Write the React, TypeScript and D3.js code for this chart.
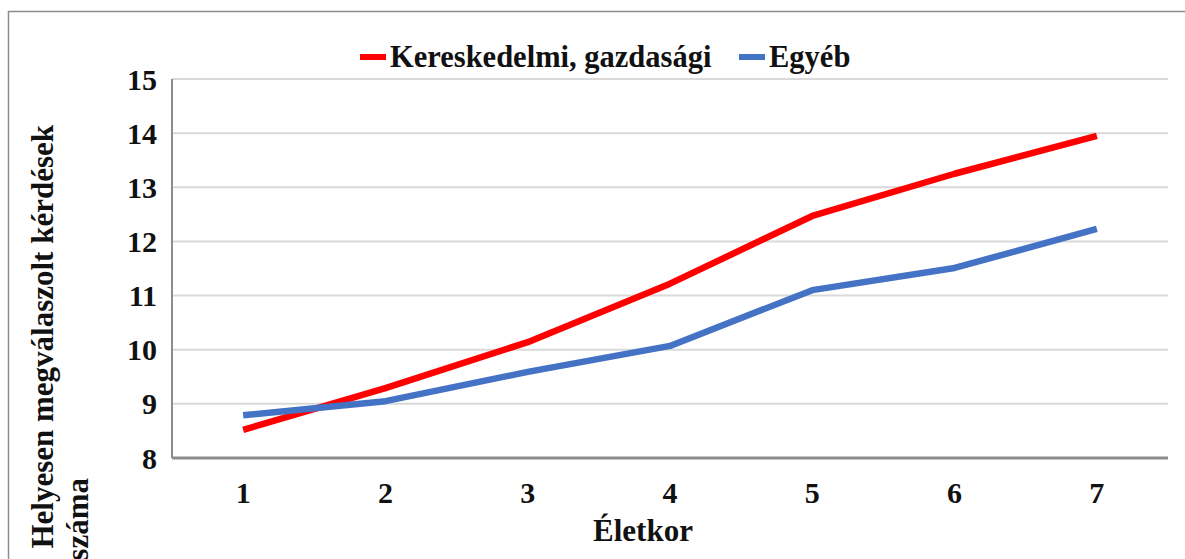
import React from "react";
import * as d3 from "d3";

const ages = ["1", "2", "3", "4", "5", "6", "7"];
const kereskedelmi = [8.52, 9.29, 10.14, 11.22, 12.47, 13.25, 13.95];
const egyeb = [8.79, 9.05, 9.59, 10.07, 11.1, 11.51, 12.23];
const yTicks = [8, 9, 10, 11, 12, 13, 14, 15];
const seriesNames = ["Kereskedelmi, gazdasági", "Egyéb"];
const seriesColors = ["#FF0000", "#4472C4"];
const xTitle = "Életkor";
const yTitleLines = ["Helyesen megválaszolt kérdések", "száma"];

const W = 1185;
const H = 559;
const FONT = "Liberation Serif, Times New Roman, Tinos, serif";

export default function App() {
  const left = 172, right = 1168, top = 79, bottom = 458;
  const x = d3.scaleBand<string>().domain(ages).range([left, right]);
  const y = d3.scaleLinear().domain([8, 15]).range([bottom, top]);
  const line = d3
    .line<number>()
    .x((_, i) => (x(ages[i]) as number) + x.bandwidth() / 2)
    .y((d) => y(d));
  const series = [kereskedelmi, egyeb];
  const ts = (fs: number): React.CSSProperties => ({ fontFamily: FONT, fontWeight: 700, fontSize: fs });
  const yTitleEnds = [125, 478];

  return (
    <svg
      width={W}
      height={H}
      style={{ position: "absolute", left: 0, top: 0, background: "#fff", fontFamily: FONT }}
    >
      <rect x={8.5} y={11.5} width={W} height={H} fill="#fff" stroke="#8c8c8c" strokeWidth={1.5} />
      {yTicks.map((t) => (
        <line key={"g" + t} x1={left} x2={right} y1={y(t)} y2={y(t)} stroke="#d9d9d9" strokeWidth={2} />
      ))}
      <line x1={left} x2={left} y1={top} y2={bottom} stroke="#8c8c8c" strokeWidth={2} />
      <line x1={left} x2={right} y1={bottom} y2={bottom} stroke="#8c8c8c" strokeWidth={3} />
      {yTicks.map((t) => (
        <text key={"t" + t} x={157} y={y(t)} dy="0.35em" textAnchor="end" style={ts(30)} fill="#111">
          {t}
        </text>
      ))}
      {ages.map((a) => (
        <text key={"x" + a} x={(x(a) as number) + x.bandwidth() / 2} y={503} textAnchor="middle" style={ts(30)} fill="#111">
          {a}
        </text>
      ))}
      <text x={643} y={541} textAnchor="middle" style={ts(31)} fill="#111">
        {xTitle}
      </text>
      {yTitleLines.map((l, i) => (
        <text
          key={"yt" + i}
          transform={`translate(${53 + i * 35},${yTitleEnds[i]}) rotate(-90)`}
          textAnchor="end"
          style={ts(31)}
          fill="#111"
        >
          {l}
        </text>
      ))}
      {series.map((s, i) => (
        <path key={"s" + i} d={line(s) as string} fill="none" stroke={seriesColors[i]} strokeWidth={6.5} strokeLinejoin="round" />
      ))}
      <line x1={360} x2={386} y1={57} y2={57} stroke={seriesColors[0]} strokeWidth={6} />
      <text x={390} y={67} style={ts(30.5)} fill="#111">{seriesNames[0]}</text>
      <line x1={739} x2={765} y1={57} y2={57} stroke={seriesColors[1]} strokeWidth={6} />
      <text x={769} y={67} style={ts(30.5)} fill="#111">{seriesNames[1]}</text>
    </svg>
  );
}
